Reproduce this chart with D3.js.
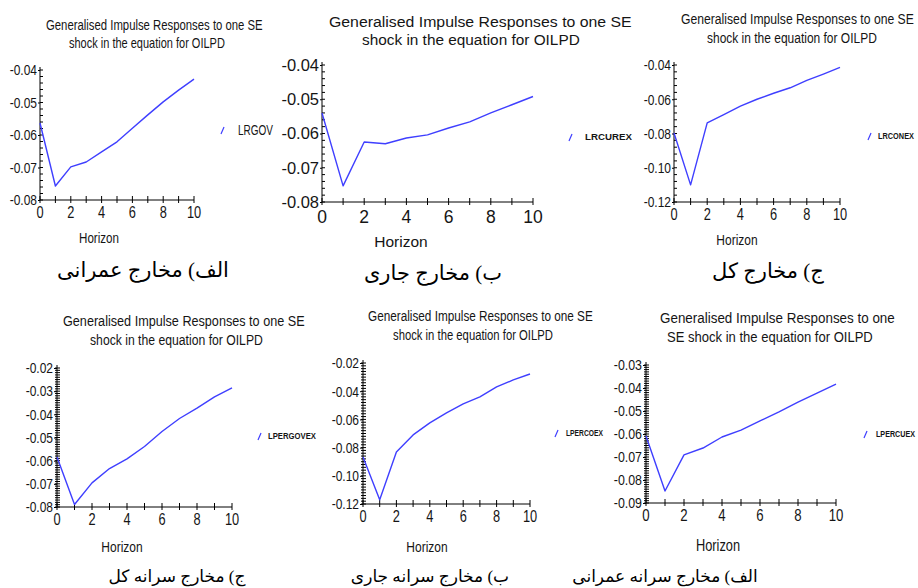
<!DOCTYPE html>
<html><head><meta charset="utf-8">
<script src="https://cdn.jsdelivr.net/npm/d3@7"></script>
<style>body{margin:0;background:#fff}svg{display:block}</style>
</head><body>
<svg id="chart" width="918" height="588"></svg>
<script>
// Generalised impulse responses to a one-SE shock in OILPD, horizons 0..10
const horizon = [0, 1, 2, 3, 4, 5, 6, 7, 8, 9, 10];
const xTickLabels = [0, 2, 4, 6, 8, 10];

const lrgov     = [-0.0563, -0.0757, -0.0698, -0.0683, -0.0652, -0.0621, -0.0579, -0.0538, -0.0498, -0.0462, -0.0428];
const lrcurex   = [-0.0540, -0.0753, -0.0625, -0.0630, -0.0613, -0.0604, -0.0584, -0.0566, -0.0540, -0.0516, -0.0492];
const lrconex   = [-0.0797, -0.1100, -0.0738, -0.0690, -0.0640, -0.0600, -0.0565, -0.0533, -0.0490, -0.0453, -0.0414];
const lpergovex = [-0.0584, -0.0789, -0.0696, -0.0634, -0.0592, -0.0539, -0.0474, -0.0418, -0.0373, -0.0325, -0.0286];
const lpercoex  = [-0.0867, -0.1170, -0.0831, -0.0710, -0.0625, -0.0554, -0.0490, -0.0440, -0.0370, -0.0320, -0.0278];
const lpercuex  = [-0.0609, -0.0848, -0.0691, -0.0661, -0.0613, -0.0583, -0.0543, -0.0504, -0.0461, -0.0422, -0.0383];

const seriesNames = ["LRGOV", "LRCUREX", "LRCONEX", "LPERGOVEX", "LPERCOEX", "LPERCUEX"];

const ticksA = [-0.08, -0.07, -0.06, -0.05, -0.04];
const ticksB = [-0.12, -0.10, -0.08, -0.06, -0.04];
const ticksC = [-0.08, -0.07, -0.06, -0.05, -0.04, -0.03, -0.02];
const ticksD = [-0.12, -0.10, -0.08, -0.06, -0.04, -0.02];
const ticksE = [-0.09, -0.08, -0.07, -0.06, -0.05, -0.04, -0.03];

const titleStd = ["Generalised Impulse Responses to one SE", "shock in the equation for OILPD"];
const titleAlt = ["Generalised Impulse Responses to one", "SE shock in the equation for OILPD"];

const captions = [
  "الف) مخارج عمرانی",
  "ب) مخارج جاری",
  "ج) مخارج کل",
  "ج) مخارج سرانه کل",
  "ب) مخارج سرانه جاری",
  "الف) مخارج سرانه عمرانی"
];

const SANS = "'Liberation Sans',Arial,sans-serif";
const SERIF = "'Times New Roman','Liberation Serif','DejaVu Sans',serif";
const LINE = "#3f3fff";
const INK = "#151515";
const fmtTick = d => d.toFixed(2);   // plain hyphen-minus, two decimals

// k: horizontal squeeze of the axis lettering (condensed face look)
const panels = [
  {values: lrgov, name: seriesNames[0], ticks: ticksA, minor: 0.002, cross: false, title: titleStd, caption: captions[0],
   L: 40, R: 194, T: 70, B: 200, t: [[46, 263, 30], [69, 225, 48]], tSize: 14.5, k: 0.8, kSize: 15, xl: 18,
   hx: 99, hy: 243, hSize: 14.5, cx: 143, cy: 277, cSize: 21, lx: 221, ly: 130, lw: [238, 273], lSize: 14.5, lBold: false},
  {values: lrcurex, name: seriesNames[1], ticks: ticksA, minor: 0.002, cross: false, title: titleStd, caption: captions[1],
   L: 322, R: 533, T: 65, B: 202, t: [[329, 632, 27], [362, 580, 45]], tSize: 15.5, k: 1, kSize: 16.5, xl: 21,
   hx: 401, hy: 247, hSize: 15.5, cx: 433, cy: 280, cSize: 21, lx: 569, ly: 137, lw: [585, 632], lSize: 9, lBold: true},
  {values: lrconex, name: seriesNames[2], ticks: ticksB, minor: 0.004, cross: false, title: titleStd, caption: captions[2],
   L: 674, R: 840, T: 65, B: 202, t: [[681, 914, 24], [707, 877, 43]], tSize: 15, k: 0.8, kSize: 15, xl: 18,
   hx: 737, hy: 245, hSize: 15, cx: 768, cy: 278, cSize: 21, lx: 868, ly: 136, lw: [878, 914], lSize: 9, lBold: true},
  {values: lpergovex, name: seriesNames[3], ticks: ticksC, minor: 0.001, cross: true, title: titleStd, caption: captions[3],
   L: 57, R: 232, T: 368, B: 507, t: [[63, 305, 326], [90, 263, 345]], tSize: 15.5, k: 0.8, kSize: 15, xl: 18,
   hx: 122, hy: 552, hSize: 15, cx: 177, cy: 582, cSize: 17, lx: 258, ly: 436, lw: [268, 316], lSize: 9, lBold: true},
  {values: lpercoex, name: seriesNames[4], ticks: ticksD, minor: 0.002, cross: true, title: titleStd, caption: captions[4],
   L: 363, R: 530, T: 363, B: 504, t: [[368, 593, 321], [393, 553, 340]], tSize: 15, k: 0.8, kSize: 15, xl: 18,
   hx: 427, hy: 552, hSize: 15, cx: 430, cy: 582, cSize: 17, lx: 555, ly: 433, lw: [566, 603], lSize: 9, lBold: true},
  {values: lpercuex, name: seriesNames[5], ticks: ticksE, minor: 0.001, cross: true, title: titleAlt, caption: captions[5],
   L: 646, R: 836, T: 365, B: 503, t: [[660, 895, 323], [667, 873, 342]], tSize: 15.5, k: 0.8, kSize: 15.5, xl: 18,
   hx: 718, hy: 551, hSize: 16, cx: 665, cy: 582, cSize: 17, lx: 864, ly: 434, lw: [876, 915], lSize: 9, lBold: true}
];

const svg = d3.select("#chart");
svg.append("rect").attr("width", 918).attr("height", 588).attr("fill", "#fff");

// text drawn at (x, y) and squeezed horizontally by factor k
function squeezed(g, x, y, str, size, k, anchor) {
  return g.append("text")
    .attr("transform", `translate(${x},${y}) scale(${k},1)`)
    .attr("text-anchor", anchor || "middle")
    .attr("font-family", SANS).attr("font-size", size).attr("fill", INK).text(str);
}

// text starting at x0 on baseline y, scaled horizontally so it ends at x1
function fitted(g, x0, x1, y, str, size, weight) {
  const t = g.append("text").attr("x", 0).attr("y", 0)
    .attr("font-family", SANS).attr("font-size", size).attr("font-weight", weight || "normal")
    .attr("fill", INK).text(str);
  const w = t.node().getComputedTextLength();
  t.attr("transform", `translate(${x0},${y}) scale(${(x1 - x0) / w},1)`);
  return t;
}

panels.forEach(p => {
  const g = svg.append("g");
  const yMin = d3.min(p.ticks), yMax = d3.max(p.ticks);
  const x = d3.scaleLinear().domain([0, 10]).range([p.L, p.R]);
  const y = d3.scaleLinear().domain([yMin, yMax]).range([p.B, p.T]);

  // two-line title, each line fitted to its span
  p.title.forEach((t, i) => {
    const [x0, x1, by] = p.t[i];
    fitted(g, x0, x1, by, t, p.tSize);
  });

  // y axis: major ticks from d3.axisLeft, minor ticks added alongside
  const tickLen = p.cross ? 3 : 2;
  const yAxis = d3.axisLeft(y).tickValues(p.ticks).tickFormat(fmtTick).tickSize(tickLen).tickPadding(1);
  const ya = g.append("g").attr("transform", `translate(${p.L},0)`).call(yAxis);
  ya.select(".domain").remove();
  ya.selectAll(".tick line").attr("stroke", "#000");
  ya.selectAll(".tick text")
    .attr("font-family", SANS).attr("font-size", p.kSize).attr("fill", INK)
    .attr("x", -(tickLen + 1) / p.k).attr("transform", `scale(${p.k},1)`);
  const nMinor = Math.round((yMax - yMin) / p.minor);
  const minors = d3.range(nMinor + 1).map(i => yMin + i * p.minor);
  g.append("g").selectAll("line").data(minors).join("line")
    .attr("x1", p.cross ? p.L - 2 : p.L).attr("x2", p.L + 3)
    .attr("y1", d => y(d)).attr("y2", d => y(d)).attr("stroke", "#000").attr("stroke-width", 1);
  g.append("line").attr("x1", p.L).attr("x2", p.L).attr("y1", p.T - 3).attr("y2", p.B)
    .attr("stroke", "#000").attr("stroke-width", 1);

  // x axis
  g.append("line").attr("x1", p.L).attr("x2", p.R).attr("y1", p.B).attr("y2", p.B).attr("stroke", "#000");
  g.append("g").selectAll("line").data(horizon).join("line")
    .attr("x1", d => x(d)).attr("x2", d => x(d)).attr("y1", p.B - 4).attr("y2", p.B + 3)
    .attr("stroke", "#000");
  xTickLabels.forEach(d => squeezed(g, x(d), p.B + p.xl, d, p.kSize + 1, p.k));

  // response line
  const line = d3.line().x((d, i) => x(horizon[i])).y(d => y(d));
  g.append("path").datum(p.values).attr("d", line).attr("fill", "none")
    .attr("stroke", LINE).attr("stroke-width", 1.4).attr("stroke-linejoin", "round");

  // x label
  squeezed(g, p.hx, p.hy, "Horizon", p.hSize, p.k);

  // legend key
  g.append("line").attr("x1", p.lx).attr("y1", p.ly + 4).attr("x2", p.lx + 3).attr("y2", p.ly - 3)
    .attr("stroke", LINE).attr("stroke-width", 1.2);
  fitted(g, p.lw[0], p.lw[1], p.ly + (p.lBold ? 3 : 5), p.name, p.lSize, p.lBold ? "bold" : "normal");

  // caption
  g.append("text").attr("x", p.cx).attr("y", p.cy).attr("text-anchor", "middle").attr("direction", "rtl")
    .attr("font-family", SERIF).attr("font-size", p.cSize).attr("fill", "#000").text(p.caption);
});
</script>
</body></html>
